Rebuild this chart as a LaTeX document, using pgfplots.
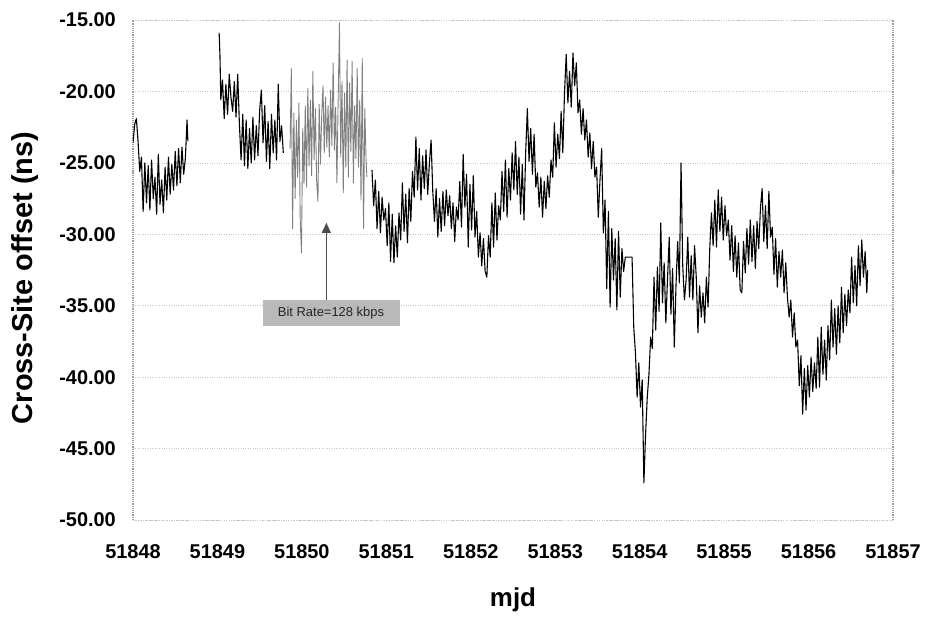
\documentclass[border=0pt]{standalone}
\usepackage{fontspec}
\setmainfont{Liberation Sans}
\usepackage{pgfplots}
\pgfplotsset{compat=1.18}
\usetikzlibrary{arrows.meta}

\begin{document}
\begin{tikzpicture}
\begin{axis}[
  scale only axis,
  width=760bp, height=500bp,
  xmin=0, xmax=9,
  ymin=-50, ymax=-15,
  xtick={0,1,2,3,4,5,6,7,8,9},
  xticklabels={51848,51849,51850,51851,51852,51853,51854,51855,51856,51857},
  ytick={-50,-45,-40,-35,-30,-25,-20,-15},
  tick label style={font=\fontsize{20}{20}\selectfont\bfseries, inner sep=0pt},
  yticklabel style={/pgf/number format/fixed, /pgf/number format/fixed zerofill,
    /pgf/number format/precision=2, /pgf/number format/assume math mode=true, xshift=-17bp},
  xticklabel style={yshift=-24bp},
  major tick length=0pt,
  ymajorgrids,
  grid style={gray!45, dotted, line width=0.6pt},
  separate axis lines,
  every outer x axis line/.append style={gray!45, dotted, line width=0.6pt},
  every outer y axis line/.append style={gray!75, densely dotted, line width=1.2pt},
  xlabel={mjd},
  ylabel={Cross-Site offset (ns)},
  xlabel style={font=\fontsize{26}{26}\selectfont\bfseries, at={(axis description cs:0.5,-0.16)}, anchor=center},
  ylabel style={font=\fontsize{29}{29}\selectfont\bfseries, at={(axis description cs:-0.142,0.484)}, anchor=center},
]
% segment before gap
\addplot[black, line width=1.1pt, line join=round] coordinates {
(0.00,-23.6) (0.02,-22.3) (0.04,-21.9) (0.06,-23.5) (0.08,-25.6) (0.10,-24.6)
(0.12,-28.4) (0.14,-25.0) (0.16,-27.8) (0.18,-25.2) (0.20,-28.3) (0.22,-24.8)
(0.24,-27.5) (0.26,-26.0) (0.28,-28.6) (0.30,-24.4) (0.32,-27.9) (0.34,-26.2)
(0.36,-28.5) (0.38,-25.3) (0.40,-27.6) (0.42,-24.6) (0.44,-27.2) (0.46,-25.1)
(0.48,-26.9) (0.50,-24.2) (0.52,-26.6) (0.54,-24.0) (0.56,-26.4) (0.58,-23.9)
(0.60,-25.8) (0.62,-24.7) (0.64,-22.0) (0.65,-23.5)
};
% second segment
\addplot[black, line width=1.1pt, line join=round] coordinates {
(1.02,-15.9) (1.03,-17.5) (1.04,-20.6) (1.06,-19.2) (1.08,-21.9) (1.10,-19.5)
(1.12,-21.6) (1.14,-18.8) (1.16,-20.4) (1.18,-21.4) (1.20,-19.3) (1.22,-21.8)
(1.24,-18.8) (1.26,-22.3) (1.28,-24.8) (1.30,-21.6) (1.32,-25.2) (1.34,-22.0)
(1.36,-25.4) (1.38,-22.6) (1.40,-25.0) (1.42,-21.8) (1.44,-24.8) (1.46,-22.4)
(1.48,-24.5) (1.50,-21.3) (1.52,-19.9) (1.54,-23.6) (1.56,-21.0) (1.58,-24.9)
(1.60,-22.1) (1.62,-25.4) (1.64,-21.6) (1.66,-24.3) (1.68,-22.0) (1.70,-24.8)
(1.72,-19.5) (1.74,-23.5) (1.76,-22.4) (1.78,-24.3)
};
% bit rate = 128 kbps period (grey)
\addplot[black!50, line width=0.9pt, line join=round] coordinates {
(1.860,-24.0) (1.875,-18.4) (1.890,-29.6) (1.905,-21.5) (1.920,-27.5) (1.935,-22.0)
(1.950,-26.0) (1.965,-20.8) (1.980,-28.9) (1.995,-31.3) (2.010,-22.6) (2.025,-26.5)
(2.040,-21.0) (2.055,-26.7) (2.070,-19.8) (2.085,-25.2) (2.100,-20.6) (2.115,-25.9)
(2.130,-18.6) (2.145,-24.8) (2.160,-21.2) (2.175,-26.3) (2.190,-27.7) (2.205,-20.9)
(2.220,-25.1) (2.235,-21.6) (2.250,-19.6) (2.265,-24.3) (2.280,-20.4) (2.295,-23.9)
(2.310,-21.0) (2.325,-24.6) (2.340,-19.9) (2.355,-23.8) (2.370,-18.0) (2.385,-24.1)
(2.400,-21.1) (2.415,-26.4) (2.430,-20.5) (2.445,-15.2) (2.460,-24.6) (2.475,-19.3)
(2.490,-27.1) (2.505,-20.1) (2.520,-25.3) (2.535,-17.8) (2.550,-26.0) (2.565,-19.4)
(2.580,-24.2) (2.595,-17.9) (2.610,-26.4) (2.625,-21.0) (2.640,-24.7) (2.655,-18.4)
(2.670,-25.3) (2.685,-20.6) (2.700,-27.6) (2.715,-17.7) (2.730,-29.6) (2.745,-21.2)
(2.760,-24.8) (2.770,-26.0)
};
% main segment
\addplot[black, line width=1.1pt, line join=round] coordinates {
(2.83,-25.5) (2.85,-28.0) (2.87,-26.2) (2.89,-29.6) (2.91,-27.0) (2.93,-29.9)
(2.95,-27.4) (2.97,-29.0) (2.99,-28.2) (3.01,-30.8) (3.03,-27.8) (3.05,-31.9)
(3.07,-28.6) (3.09,-32.0) (3.11,-29.4) (3.13,-31.6) (3.15,-28.5) (3.17,-30.4)
(3.19,-26.4) (3.21,-29.8) (3.23,-27.2) (3.25,-30.6) (3.27,-26.8) (3.29,-29.1)
(3.31,-25.6) (3.33,-27.4) (3.35,-23.2) (3.37,-26.9) (3.39,-24.0) (3.41,-27.6)
(3.43,-24.5) (3.45,-26.8) (3.47,-24.1) (3.49,-27.2) (3.51,-25.0) (3.53,-23.4)
(3.55,-27.0) (3.57,-29.1) (3.59,-26.8) (3.61,-30.2) (3.63,-27.5) (3.65,-29.8)
(3.67,-27.0) (3.69,-29.4) (3.71,-26.9) (3.73,-28.7) (3.75,-27.3) (3.77,-29.6)
(3.79,-27.8) (3.81,-30.5) (3.83,-28.1) (3.85,-29.0) (3.87,-26.3) (3.89,-29.5)
(3.91,-24.4) (3.93,-28.1) (3.95,-25.8) (3.97,-30.9) (3.99,-26.5) (4.01,-29.7)
(4.03,-25.9) (4.05,-30.2) (4.07,-28.4) (4.09,-31.6) (4.11,-29.9) (4.13,-32.2)
(4.15,-30.3) (4.17,-32.6) (4.19,-33.0) (4.21,-30.1) (4.23,-31.6) (4.25,-27.8)
(4.27,-30.9) (4.29,-27.1) (4.31,-30.4) (4.33,-28.0) (4.35,-29.0) (4.37,-25.6)
(4.39,-28.4) (4.41,-24.8) (4.43,-28.8) (4.45,-25.4) (4.47,-27.6) (4.49,-24.3)
(4.51,-26.9) (4.53,-23.5) (4.55,-27.2) (4.57,-24.6) (4.59,-28.6) (4.61,-25.1)
(4.63,-29.0) (4.65,-24.3) (4.67,-21.2) (4.69,-24.9) (4.71,-22.6) (4.73,-25.8)
(4.75,-23.0) (4.77,-26.7) (4.79,-25.7) (4.81,-28.1) (4.83,-26.0) (4.85,-28.8)
(4.87,-26.3) (4.89,-28.2) (4.91,-25.9) (4.93,-27.4) (4.95,-24.8) (4.97,-26.0)
(4.99,-22.2) (5.01,-25.3) (5.03,-23.0) (5.05,-24.7) (5.07,-21.4) (5.09,-24.3)
(5.11,-20.1) (5.13,-17.4) (5.15,-20.8) (5.17,-18.6) (5.19,-21.1) (5.21,-17.3)
(5.23,-19.6) (5.25,-18.0) (5.27,-21.5) (5.29,-20.6) (5.31,-23.0) (5.33,-21.2)
(5.35,-23.4) (5.37,-22.0) (5.39,-24.6) (5.41,-22.9) (5.43,-25.4) (5.45,-23.5)
(5.47,-26.0) (5.49,-25.3) (5.51,-28.8) (5.53,-26.2) (5.55,-24.0) (5.57,-29.9)
(5.59,-27.6) (5.61,-33.8) (5.63,-28.4) (5.65,-35.1) (5.67,-29.6) (5.69,-33.2)
(5.71,-30.3) (5.73,-35.3) (5.75,-29.8) (5.77,-34.4) (5.79,-31.0) (5.81,-32.6)
(5.83,-31.6) (5.91,-31.6) (5.93,-36.5) (5.95,-38.3) (5.97,-41.4) (5.99,-39.0)
(6.01,-42.1) (6.03,-40.2) (6.05,-47.4) (6.07,-44.0) (6.09,-41.4) (6.11,-39.8)
(6.13,-37.2) (6.15,-38.0) (6.17,-33.0) (6.19,-36.7) (6.21,-32.3) (6.23,-35.4)
(6.25,-29.2) (6.27,-34.8) (6.29,-32.0) (6.31,-36.2) (6.33,-33.1) (6.35,-30.2)
(6.37,-35.6) (6.39,-32.4) (6.41,-37.9) (6.43,-33.6) (6.45,-30.5) (6.47,-33.4)
(6.49,-25.0) (6.51,-32.2) (6.53,-34.6) (6.55,-33.2) (6.57,-30.2) (6.59,-34.4)
(6.61,-31.5) (6.63,-34.6) (6.65,-30.8) (6.67,-33.0) (6.69,-36.9) (6.71,-33.6)
(6.73,-35.8) (6.75,-34.1) (6.77,-36.2) (6.79,-33.0) (6.81,-35.1) (6.83,-31.0)
(6.85,-28.5) (6.87,-30.8) (6.89,-27.6) (6.91,-30.9) (6.93,-26.9) (6.95,-29.8)
(6.97,-27.4) (6.99,-30.4) (7.01,-28.0) (7.03,-30.1) (7.05,-29.0) (7.07,-31.8)
(7.09,-29.4) (7.11,-32.6) (7.13,-30.1) (7.15,-33.0) (7.17,-30.6) (7.19,-33.9)
(7.21,-34.1) (7.23,-30.5) (7.25,-32.7) (7.27,-29.6) (7.29,-32.1) (7.31,-29.0)
(7.33,-31.9) (7.35,-29.4) (7.37,-32.4) (7.39,-29.1) (7.41,-31.0) (7.43,-28.2)
(7.45,-26.8) (7.47,-30.5) (7.49,-28.0) (7.51,-31.0) (7.53,-27.0) (7.55,-30.2)
(7.57,-29.5) (7.59,-32.8) (7.61,-30.3) (7.63,-33.7) (7.65,-31.2) (7.67,-33.0)
(7.69,-31.1) (7.71,-34.1) (7.73,-32.0) (7.75,-34.4) (7.77,-35.8) (7.79,-34.6)
(7.81,-37.2) (7.83,-35.5) (7.85,-37.9) (7.87,-37.4) (7.89,-40.6) (7.91,-38.5)
(7.93,-42.6) (7.95,-39.4) (7.97,-42.3) (7.99,-39.2) (8.01,-41.4) (8.03,-38.6)
(8.05,-41.0) (8.07,-39.0) (8.09,-40.8) (8.11,-37.2) (8.13,-40.7) (8.15,-36.5)
(8.17,-39.8) (8.19,-37.4) (8.21,-40.2) (8.23,-36.4) (8.25,-38.8) (8.27,-34.6)
(8.29,-37.9) (8.31,-35.2) (8.33,-38.4) (8.35,-35.0) (8.37,-37.6) (8.39,-33.7)
(8.41,-36.9) (8.43,-34.2) (8.45,-36.4) (8.47,-33.9) (8.49,-35.5) (8.51,-31.6)
(8.53,-34.8) (8.55,-32.2) (8.57,-35.0) (8.59,-30.8) (8.61,-33.6) (8.63,-30.4)
(8.65,-33.0) (8.67,-31.2) (8.69,-34.1) (8.70,-32.5)
};
% annotation
\draw[black!70, line width=1pt, -{Triangle[width=9bp,length=10bp]}]
  (axis cs:2.29,-34.6) -- (axis cs:2.29,-29.2);
\node[fill=gray!55, inner sep=0pt, minimum width=137bp, minimum height=26bp,
  font=\fontsize{13}{13}\selectfont, text=black!85]
  at (axis cs:2.345,-35.5) {Bit Rate=128 kbps};
\end{axis}
\pgfresetboundingbox
\path[use as bounding box] (-133bp,-102bp) rectangle (794bp,520bp);
\end{tikzpicture}
\end{document}
